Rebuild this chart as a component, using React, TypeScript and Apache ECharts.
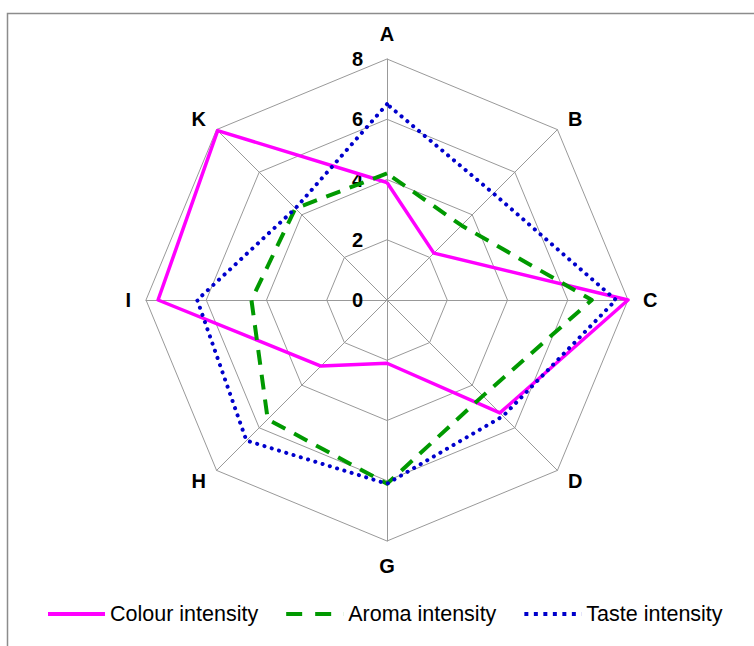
import React, { useEffect, useRef } from "react";
import * as echarts from "echarts";

// Axes in clockwise order starting from the top
const categories = ["A", "B", "C", "D", "G", "H", "I", "K"];
const colourIntensity = [3.9, 2.2, 8.0, 5.3, 2.1, 3.1, 7.6, 7.95];
const aromaIntensity = [4.2, 3.5, 6.8, 4.5, 6.1, 5.6, 4.5, 4.3];
const tasteIntensity = [6.5, 5.0, 7.6, 5.45, 6.1, 6.6, 6.3, 4.3];
const seriesNames = ["Colour intensity", "Aroma intensity", "Taste intensity"];
const axisMin = 0;
const axisMax = 8;
const splitCount = 4;

const FONT = "'Liberation Sans', Arial, sans-serif";

export default function App() {
  const ref = useRef<HTMLDivElement>(null);
  useEffect(() => {
    if (!ref.current) return;
    const chart = echarts.init(ref.current, undefined, { renderer: "svg" });
    // ECharts lays out radar indicators counter-clockwise; reorder to get clockwise
    const order = categories.map((_, i) => (i === 0 ? 0 : categories.length - i));
    const pick = (arr: number[]) => order.map((i) => arr[i]);
    const indicator = order.map((i, k) => {
      const ind: any = { name: categories[i], min: axisMin, max: axisMax };
      if (k === 0) {
        ind.axisLabel = {
          show: true,
          color: "#000",
          fontWeight: "bold",
          fontSize: 20,
          fontFamily: FONT,
          margin: 24,
          align: "right",
          formatter: (v: number) => String(Math.round(v)),
        };
      }
      return ind;
    });
    const option: any = {
      animation: false,
      backgroundColor: "#fff",
      graphic: [
        {
          type: "rect",
          shape: { x: 7.5, y: 13.5, width: 900, height: 900 },
          style: { fill: "none", stroke: "#8c8c8c", lineWidth: 1.5 },
          silent: true,
        },
      ],
      legend: {
        left: 48,
        top: 603,
        itemWidth: 57,
        itemHeight: 4,
        itemGap: 28,
        padding: 0,
        textStyle: { fontFamily: FONT, fontSize: 21.5, color: "#000", padding: [0, 0, 0, 0] },
        data: [
          { name: seriesNames[0], icon: "path://M0,0H57V4H0Z" },
          { name: seriesNames[1], icon: "path://M0,0H16V4H0Z M29,0H45V4H29Z M56.9,0H57V4H56.9Z" },
          {
            name: seriesNames[2],
            icon:
              "path://M0,0H4V4H0Z M9.5,0H13.5V4H9.5Z M19,0H23V4H19Z M28.5,0H32.5V4H28.5Z M38,0H42V4H38Z M47.5,0H51.5V4H47.5Z M56.9,0H57V4H56.9Z",
          },
        ],
      },
      radar: {
        center: [387, 300],
        radius: 241,
        startAngle: 90,
        shape: "polygon",
        splitNumber: splitCount,
        indicator,
        axisName: {
          color: "#000",
          fontWeight: "bold",
          fontSize: 20,
          fontFamily: FONT,
        },
        nameGap: 15,
        axisLine: { lineStyle: { color: "#999", width: 1 } },
        splitLine: { lineStyle: { color: "#999", width: 1 } },
        splitArea: { show: false },
        axisTick: { show: false },
      },
      series: [
        {
          type: "radar",
          symbol: "none",
          data: [
            {
              name: seriesNames[0],
              value: pick(colourIntensity),
              lineStyle: { color: "#ff00ff", width: 3.5, type: "solid" },
              itemStyle: { color: "#ff00ff" },
            },
            {
              name: seriesNames[1],
              value: pick(aromaIntensity),
              lineStyle: { color: "#009900", width: 4, type: [15, 10] },
              itemStyle: { color: "#009900" },
            },
            {
              name: seriesNames[2],
              value: pick(tasteIntensity),
              lineStyle: { color: "#0000cc", width: 4, type: [0.1, 7.5], cap: "round" },
              itemStyle: { color: "#0000cc" },
            },
          ],
        },
      ],
    };
    chart.setOption(option);
    return () => chart.dispose();
  }, []);
  return (
    <div
      ref={ref}
      style={{ position: "absolute", left: 0, top: 0, width: 754, height: 646 }}
    />
  );
}
